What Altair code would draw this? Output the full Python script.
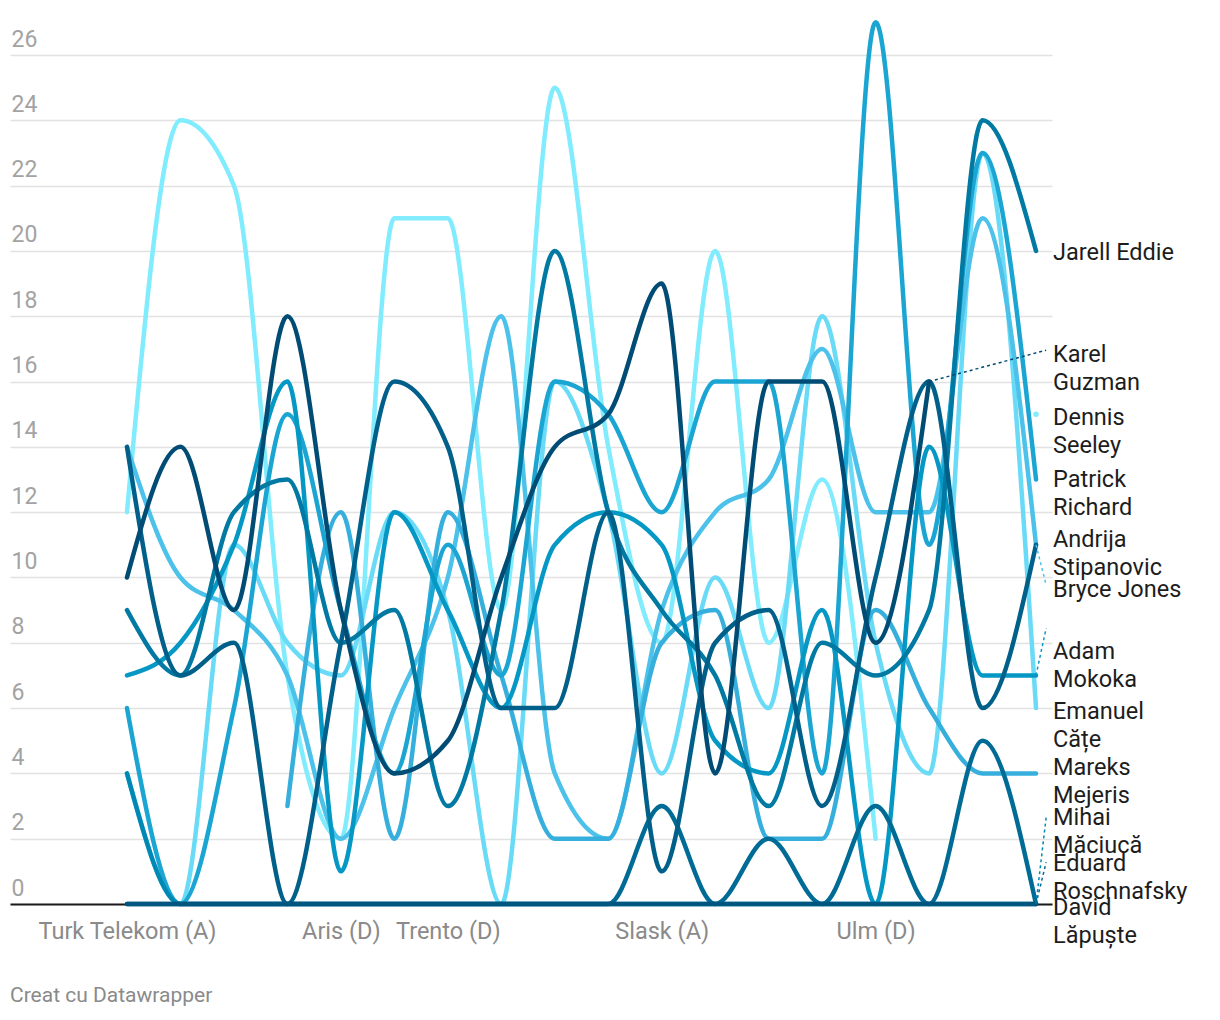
import altair as alt
import pandas as pd

# ---------------- data ----------------
games = list(range(18))
tick_positions = [0, 4, 6, 10, 14]
tick_labels = ["Turk Telekom (A)", "Aris (D)", "Trento (D)", "Slask (A)", "Ulm (D)"]

dennis_seeley = [12, 24, 22, 7, 2, 21, 21, 9, 25, 14, 8, 20, 8, 13, 2, None, None, 15]
emanuel_cate = [4, 0, 11, 8, 7, 12, 9, 0, 16, 12, 4, 10, 6, 18, 8, 4, 23, 6]
bryce_jones = [14, 10, 9, 7, 2, 6, 10, 18, 4, 2, 9, 12, 13, 17, 12, 12, 21, 11]
mareks_mejeris = [None, None, None, 3, 12, 2, 12, 7, 2, 2, 8, 9, 2, 2, 9, 6, 4, 4]
patrick_richard = [6, 0, 6, 15, 9, 4, 11, 7, 16, 15, 12, 16, 16, 4, 27, 11, 23, 13]
adam_mokoka = [7, 8, 11, 16, 1, 12, 9, 6, 11, 12, 11, 5, 4, 9, 0, 14, 7, 7]
mihai_maciuca = [4, 0, 0, 0, 0, 0, 0, 0, 0, 0, 0, 0, 0, 0, 0, 0, 0, 0]
jarell_eddie = [9, 7, 12, 13, 8, 9, 3, 9, 20, 12, 9, 7, 3, 8, 7, 9, 24, 20]
eduard_roschnafsky = [0, 0, 0, 0, 0, 0, 0, 0, 0, 0, 3, 0, 2, 0, 3, 0, 5, 0]
andrija_stipanovic = [14, 7, 8, 0, 8, 16, 14, 6, 6, 12, 1, 8, 9, 3, 10, 16, 6, 11]
david_lapuste = [0, 0, 0, 0, 0, 0, 0, 0, 0, 0, 0, 0, 0, 0, 0, 0, 0, 0]
karel_guzman = [10, 14, 9, 18, 9, 4, 5, 10, 14, 15, 19, 4, 16, 16, 8, 16, None, None]

players = [
    "Dennis Seeley", "Emanuel Cățe", "Bryce Jones", "Mareks Mejeris",
    "Patrick Richard", "Adam Mokoka", "Mihai Măciucă", "Jarell Eddie",
    "Eduard Roschnafsky", "Andrija Stipanovic", "David Lăpuște", "Karel Guzman",
]
series = [
    dennis_seeley, emanuel_cate, bryce_jones, mareks_mejeris,
    patrick_richard, adam_mokoka, mihai_maciuca, jarell_eddie,
    eduard_roschnafsky, andrija_stipanovic, david_lapuste, karel_guzman,
]
colors = [
    "#80ecfd", "#6adbf7", "#4cc1e9", "#37afdd",
    "#1ba5d2", "#0698c5", "#0088b5", "#0079a3",
    "#006c96", "#00608a", "#00567f", "#004c74",
]

# label text (wrapped as in the reference) and the value where its first line sits
label_text = [
    "Dennis\nSeeley", "Emanuel\nCățe", "Bryce Jones", "Mareks\nMejeris",
    "Patrick\nRichard", "Adam\nMokoka", "Mihai\nMăciucă", "Jarell Eddie",
    "Eduard\nRoschnafsky", "Andrija\nStipanovic", "David\nLăpuște", "Karel\nGuzman",
]
label_pos = [14.88, 5.88, 9.61, 4.17, 12.98, 7.71, 2.64, 19.93, 1.23, 11.14, -0.13, 16.81]

# dotted leader lines: target (label side) value for players that need one
leader_target = {
    "Karel Guzman": 16.96,
    "Bryce Jones": 9.77,
    "Adam Mokoka": 8.45,
    "Mihai Măciucă": 2.66,
    "Eduard Roschnafsky": 1.28,
}
footer = "Creat cu Datawrapper"

# ---------------- build tables ----------------
line_rows, dot_rows, label_rows, leader_rows = [], [], [], []
for name, vals, col, txt, lp in zip(players, series, colors, label_text, label_pos):
    run = []
    runs = []
    for g, v in zip(games, vals):
        if v is None:
            if run:
                runs.append(run)
            run = []
        else:
            run.append((g, v))
    if run:
        runs.append(run)
    for k, r in enumerate(runs):
        if len(r) == 1:
            dot_rows.append({"player": name, "idx": r[0][0], "value": r[0][1], "color": col})
        else:
            for g, v in r:
                line_rows.append({"player": name, "idx": g, "value": v, "seg": k, "color": col})
    last_g, last_v = runs[-1][-1]
    label_rows.append({"player": name, "lx": games[-1], "ly": lp, "text": txt})
    if name in leader_target:
        leader_rows.append({"player": name, "x1": last_g, "y1": last_v,
                            "x2": games[-1] + 0.19, "y2": leader_target[name], "color": col})

lines_df = pd.DataFrame(line_rows)
dots_df = pd.DataFrame(dot_rows)
labels_df = pd.DataFrame(label_rows)
leaders_df = pd.DataFrame(leader_rows)

# ---------------- scales / axes ----------------
x_scale = alt.Scale(domain=[-2.188, 17.299], nice=False, zero=False)
y_scale = alt.Scale(domain=[0, 27.44], nice=False, zero=False)

label_expr = " : ".join(
    f"datum.value == {p} ? '{t}'" for p, t in zip(tick_positions, tick_labels)
) + " : ''"

x_axis = alt.Axis(
    values=tick_positions, labelExpr=label_expr, title=None, grid=False,
    ticks=False, tickSize=0, domain=True, domainColor="#1a1a1a", domainWidth=2,
    labelColor="#8a8a8a", labelFont="Roboto", labelFontSize=23.5, labelPadding=15,
    labelOverlap=False, labelFlush=False,
)
y_axis = alt.Axis(
    values=list(range(0, 27, 2)), title=None, grid=True, gridColor="#e2e2e2",
    gridWidth=1.5, domain=False, ticks=False, tickSize=0, labelAlign="left",
    labelBaseline="alphabetic", labelPadding=-1, labelOffset=-9,
    labelColor="#a3a3a3", labelFont="Roboto", labelFontSize=23,
)

X = lambda f: alt.X(f, type="quantitative", scale=x_scale, axis=x_axis)
Y = lambda f: alt.Y(f, type="quantitative", scale=y_scale, axis=y_axis)

layers = []
for name, col in zip(players, colors):
    sub = lines_df[lines_df["player"] == name]
    layers.append(
        alt.Chart(sub).mark_line(
            interpolate="monotone", strokeWidth=4.5, strokeCap="round", strokeJoin="round"
        ).encode(x=X("idx"), y=Y("value"), detail="seg:N", color=alt.value(col))
    )

if len(dots_df):
    layers.append(
        alt.Chart(dots_df).mark_circle(size=30, opacity=1).encode(
            x=X("idx"), y=Y("value"),
            color=alt.Color("color:N", scale=None),
        )
    )

layers.append(
    alt.Chart(leaders_df).mark_rule(strokeDash=[3, 3], strokeWidth=1.5).encode(
        x=X("x1"), x2="x2", y=Y("y1"), y2="y2",
        color=alt.Color("color:N", scale=None),
    )
)

layers.append(
    alt.Chart(labels_df).mark_text(
        align="left", baseline="middle", dx=17, lineBreak="\n", lineHeight=28,
        font="Roboto", fontSize=23.5, color="#1d1d1d",
    ).encode(x=X("lx"), y=Y("ly"), text="text:N")
)

chart = alt.layer(*layers).properties(
    width=1042,
    height=896,
    padding={"left": 2, "top": 0, "right": 5, "bottom": 5},
    title=alt.TitleParams(
        footer, orient="bottom", anchor="start", frame="group", font="Roboto",
        fontSize=21, fontWeight="normal", color="#8a8a8a", offset=37,
    ),
).configure_view(stroke=None)

chart.save("out.html", embed_options={"renderer": "svg", "actions": False})
